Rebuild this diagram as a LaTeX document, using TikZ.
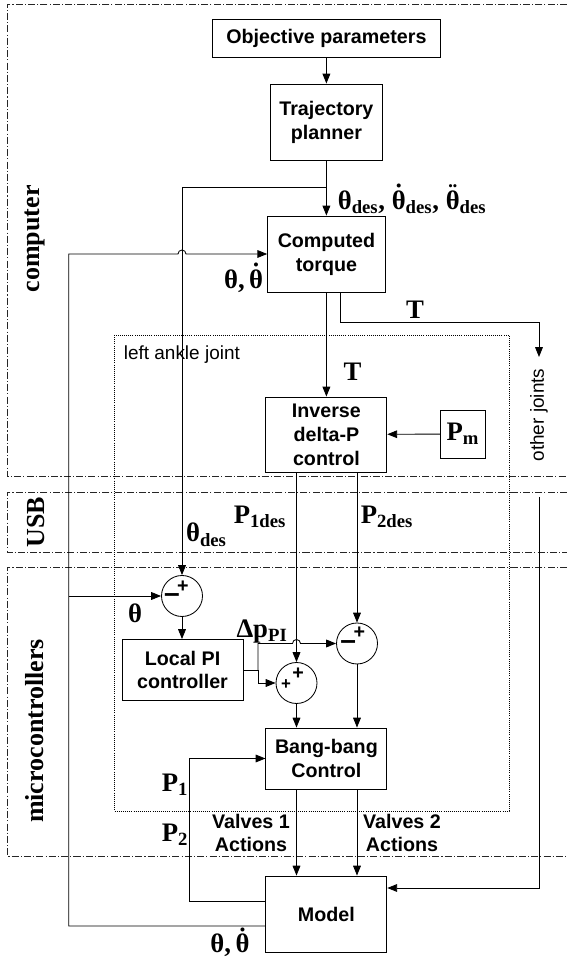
\documentclass[tikz,border=0pt]{standalone}
\usepackage{fontspec}
\setmainfont{Liberation Serif}
\setsansfont{Liberation Sans}
\usetikzlibrary{arrows.meta}

\newcommand{\thdot}{\accent"02D9 θ}
\newcommand{\thddot}{\accent"00A8 θ}

\begin{document}
\begin{tikzpicture}[
    line width=0.6pt,
    >={Triangle[length=7pt,width=5.5pt]},
    block/.style={draw, align=center, inner sep=2pt, font=\fontsize{14}{17}\selectfont\sffamily\bfseries},
    tag/.style={align=center, inner sep=1pt, font=\fontsize{14}{17}\selectfont\sffamily\bfseries},
    adder/.style={draw, circle, minimum size=1.025cm, inner sep=0pt},
    sig/.style={inner sep=1pt, font=\fontsize{19}{22}\selectfont\bfseries},
    sign/.style={inner sep=0pt, font=\fontsize{14}{14}\selectfont\sffamily\bfseries},
    region/.style={draw=black!85, line width=0.5pt, dash pattern=on 5pt off 1.5pt on 0.8pt off 1.5pt},
    zone/.style={rotate=90, inner sep=0pt, font=\fontsize{18.5}{20}\selectfont\bfseries},
    note/.style={inner sep=1pt, font=\fontsize{13.5}{16}\selectfont\sffamily}
]
\useasboundingbox (0,0) rectangle (14.175,23.975);

% Regions
\draw[region] (14.175,23.875) -- (0.175,23.875) -- (0.175,12.075) -- (14.175,12.075);
\node[zone, anchor=east] (zone-pc) at (0.8625,19.35) {computer};
\draw[region] (14.175,11.675) -- (0.175,11.675) -- (0.175,10.175) -- (14.175,10.175);
\node[zone] (zone-usb) at (0.9,10.925) {USB};
\draw[region] (14.175,9.8) -- (0.175,9.8) -- (0.175,2.575) -- (14.175,2.575);
\node[zone] (zone-mc) at (0.875,5.7) {microcontrollers};

% Left ankle joint
\draw[densely dotted, line width=0.5pt] (2.85,15.6) rectangle (12.725,3.7);
\node[note, anchor=west] (ankle) at (3.05,15.1) {left ankle joint};

% Blocks
\node[block, minimum width=5.71cm, minimum height=0.95cm] (obj) at (8.16,23.025) {Objective parameters};
\node[block, minimum width=2.8cm, minimum height=1.9cm] (traj) at (8.16,20.925) {Trajectory\\planner};
\node[block, minimum width=2.94cm, minimum height=1.9cm] (ctrq) at (8.16,17.625) {Computed\\torque};
\node[block, minimum width=3.025cm, minimum height=1.875cm] (invp) at (8.16,13.1125) {Inverse\\delta-P\\control};
\node[draw, sig, minimum width=1.11cm, minimum height=1.2cm] (pm) at (11.57,13.125) {P\textsubscript{m}};
\node[block, minimum width=3.025cm, minimum height=1.525cm] (pi) at (4.5625,7.225) {Local PI\\controller};
\node[block, minimum width=3.025cm, minimum height=1.525cm] (bang) at (8.16,5.0125) {Bang-bang\\Control};
\node[block, minimum width=3.025cm, minimum height=1.9cm] (model) at (8.16,1.125) {Model};

% Summing junctions
\node[adder] (sumt) at (4.55,9.075) {};
\node[sign] (sumt-p) at ([shift={(0.02,0.24)}]sumt.center) {+};
\node[sign] (sumt-m) at ([shift={(-0.25,-0.04)}]sumt.center) {\fontsize{20}{20}\selectfont –};
\node[adder] (sump1) at (7.4125,6.9) {};
\node[sign] (sump1-a) at ([shift={(0.04,0.24)}]sump1.center) {+};
\node[sign, font=\fontsize{12}{12}\selectfont\sffamily\bfseries] (sump1-b) at ([shift={(-0.26,-0.05)}]sump1.center) {+};
\node[adder] (sump2) at (8.925,7.8875) {};
\node[sign] (sump2-p) at ([shift={(0.06,0.26)}]sump2.center) {+};
\node[sign] (sump2-m) at ([shift={(-0.22,-0.04)}]sump2.center) {\fontsize{20}{20}\selectfont –};

% Computer side
\coordinate (tap) at (8.16,19.3);
\draw[->] (obj) -- (traj);
\draw[->] (traj) -- (ctrq);
\draw[->] (tap) -| (sumt.north);
\node[sig, anchor=west] (lbl-des) at (8.4,19.0) {θ\textsubscript{des}, \thdot\textsubscript{des}, \thddot\textsubscript{des}};
\draw[->] ([yshift=-0.3cm]model.west) -| (1.72,17.625) -- (4.45,17.625)
    arc[start angle=180, end angle=0, radius=0.1] -- (ctrq.west);
\node[sig] (lbl-fb) at (6.09,17.025) {θ,\,\thdot};
\coordinate (oj) at (13.475,15.05);
\draw[->] ([xshift=0.34cm]ctrq.south) |- (13.475,15.925) -- (oj);
\node[sig] (lbl-t1) at (10.375,16.225) {T};
\node[note, rotate=90] (lbl-oj) at (13.475,13.6) {other joints};
\draw[->] (ctrq) -- (invp);
\node[sig] (lbl-t2) at (8.815,14.675) {T};
\draw[->] (pm) -- (invp);

% Microcontroller side
\draw[->] (invp.south -| sump1) -- (sump1);
\draw[->] (invp.south -| sump2) -- (sump2);
\node[sig] (lbl-p1d) at (6.5,11.05) {P\textsubscript{1des}};
\node[sig] (lbl-p2d) at (9.675,11.05) {P\textsubscript{2des}};
\node[sig] (lbl-thd) at (5.16,10.6) {θ\textsubscript{des}};
\draw[->] (1.72,9.075) -- (sumt.west);
\node[sig] (lbl-th) at (3.375,8.65) {θ};
\draw[->] (sumt) -- (sumt |- pi.north);
\coordinate (split) at (6.45,7.225);
\draw (pi.east) -- (split);
\draw[->] (split) |- (sump1.west);
\draw[->] (split) |- (7.3125,7.8875) arc[start angle=180, end angle=0, radius=0.1] -- (sump2.west);
\node[sig] (lbl-dp) at (6.55,8.175) {Δp\textsubscript{PI}};
\draw[->] (sump1) -- (sump1 |- bang.north);
\draw[->] (sump2) -- (sump2 |- bang.north);

% Plant
\draw[->] (bang.south -| sump1) -- (model.north -| sump1);
\draw[->] (bang.south -| sump2) -- (model.north -| sump2);
\node[tag] (lbl-v1) at (6.275,3.15) {Valves 1\\Actions};
\node[tag] (lbl-v2) at (10.05,3.15) {Valves 2\\Actions};
\draw[->] ([yshift=0.325cm]model.west) -| (4.7375,5.0125) -- (bang.west);
\node[sig] (lbl-p1) at (4.375,4.35) {P\textsubscript{1}};
\node[sig] (lbl-p2) at (4.375,3.1) {P\textsubscript{2}};
\draw[->] (13.475,11.55) |- ([yshift=0.65cm]model.east);
\node[sig, anchor=base] (lbl-out) at (5.75,0.16) {θ,\,\thdot};

\end{tikzpicture}
\end{document}
